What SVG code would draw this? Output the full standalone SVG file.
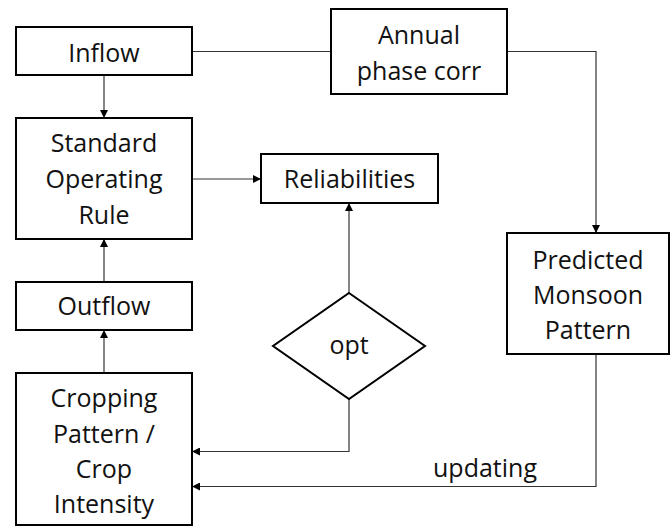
<svg xmlns="http://www.w3.org/2000/svg" width="672" height="526" viewBox="0 0 672 526">
<style>
.box{fill:#fff;stroke:#000;stroke-width:2}
.t{font-family:"Open Sans","Liberation Sans",sans-serif;font-size:25px;fill:#111;text-anchor:middle}
.c{fill:none;stroke:#333;stroke-width:1.2}
</style>
<defs>
<marker id="ah" viewBox="0 0 10 10" refX="10" refY="5" markerWidth="8" markerHeight="8" markerUnits="userSpaceOnUse" orient="auto">
<path d="M0,0 L10,5 L0,10 z" fill="#000"/>
</marker>
</defs>
<rect width="672" height="526" fill="#fff"/>
<g id="connectors">
<path class="c" d="M192,51.5 H331"/>
<path class="c" d="M507,51.5 H596 V233" marker-end="url(#ah)"/>
<path class="c" d="M104,75 V118" marker-end="url(#ah)"/>
<path class="c" d="M192,179 H261" marker-end="url(#ah)"/>
<path class="c" d="M104,282 V239" marker-end="url(#ah)"/>
<path class="c" d="M104,373 V330" marker-end="url(#ah)"/>
<path class="c" d="M349,293 V203" marker-end="url(#ah)"/>
<path class="c" d="M349,399 V451.5 H192" marker-end="url(#ah)"/>
<path class="c" d="M596,354 V486.5 H192" marker-end="url(#ah)"/>
<text class="t" x="485" y="477">updating</text>
</g>
<g id="inflow"><rect class="box" x="16" y="27" width="176" height="48"/><text class="t" x="104" y="62">Inflow</text></g>
<g id="annual"><rect class="box" x="331" y="9" width="176" height="85"/><text class="t" x="419" y="44">Annual</text><text class="t" x="419" y="80">phase corr</text></g>
<g id="sor"><rect class="box" x="16" y="118" width="176" height="121"/><text class="t" x="104" y="152">Standard</text><text class="t" x="104" y="188">Operating</text><text class="t" x="104" y="224">Rule</text></g>
<g id="reliabilities"><rect class="box" x="261" y="154" width="177" height="49"/><text class="t" x="349.5" y="188">Reliabilities</text></g>
<g id="outflow"><rect class="box" x="16" y="282" width="176" height="48"/><text class="t" x="104" y="315">Outflow</text></g>
<g id="cropping"><rect class="box" x="16" y="373" width="176" height="152"/><text class="t" x="104" y="407">Cropping</text><text class="t" x="104" y="443">Pattern /</text><text class="t" x="104" y="478">Crop</text><text class="t" x="104" y="513">Intensity</text></g>
<g id="opt"><path class="box" d="M349,293 L425,346 L349,399 L273,346 z"/><text class="t" x="349" y="354">opt</text></g>
<g id="predicted"><rect class="box" x="507" y="233" width="162" height="121"/><text class="t" x="588" y="269">Predicted</text><text class="t" x="588" y="304">Monsoon</text><text class="t" x="588" y="339">Pattern</text></g>
</svg>
